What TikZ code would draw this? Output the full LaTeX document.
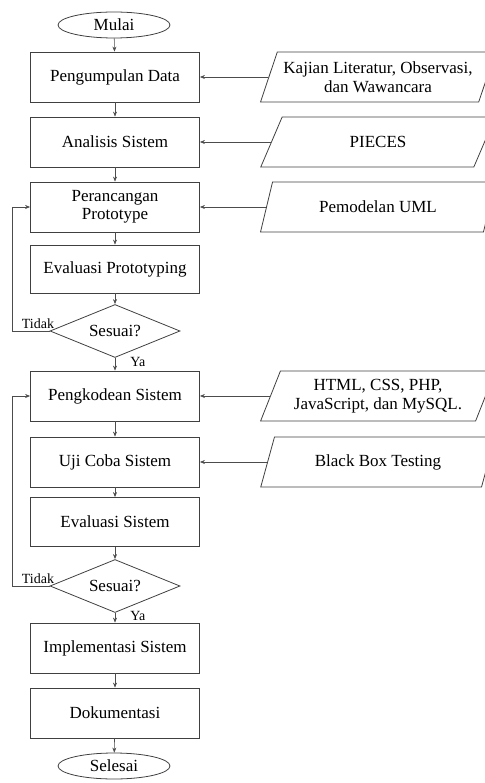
\documentclass[tikz,border=0pt]{standalone}
\usepackage{fontspec}
\setmainfont{Liberation Serif}
\usetikzlibrary{shapes.geometric,arrows.meta}
\begin{document}
\begin{tikzpicture}[x=1pt,y=-1pt,
  txt/.style={font=\fontsize{17}{18.5}\selectfont, align=center},
  proc/.style={txt, draw=black!75, line width=0.8pt, minimum width=169pt, minimum height=50pt, inner sep=2pt},
  io/.style={txt, draw=black!75, line width=0.8pt, trapezium, trapezium left angle=64, trapezium right angle=116, trapezium stretches=true, minimum width=235pt, minimum height=50pt, inner sep=1pt},
  term/.style={txt, draw=black!75, line width=0.8pt, ellipse, minimum width=112pt, minimum height=26pt, inner sep=0pt},
  dec/.style={txt, draw=black!75, line width=0.8pt, diamond, aspect=2.45, minimum width=130pt, minimum height=53pt, inner sep=0pt},
  arr/.style={-{Stealth[length=5pt,width=4pt]}, draw=black!70, line width=0.6pt},
  lbl/.style={font=\fontsize{14}{16}\selectfont, inner sep=1pt}]
\useasboundingbox (0,0) rectangle (484,783);
\node[term] (mulai) at (114,25) {Mulai};
\node[proc] (p1) at (115,77) {Pengumpulan Data};
\node[io] (i1) at (378,77) {Kajian Literatur, Observasi,\\dan Wawancara};
\node[proc] (p2) at (115,142) {Analisis Sistem};
\node[io] (i2) at (378,142) {PIECES};
\node[proc] (p3) at (115,207) {Perancangan\\Prototype};
\node[io] (i3) at (378,207) {Pemodelan UML};
\node[proc, minimum height=48pt] (p4) at (115,269) {Evaluasi Prototyping};
\node[dec] (d1) at (115,331) {Sesuai?};
\node[proc] (p5) at (115,396) {Pengkodean Sistem};
\node[io] (i5) at (378,396) {HTML, CSS, PHP,\\JavaScript, dan MySQL.};
\node[proc] (p6) at (115,462) {Uji Coba Sistem};
\node[io] (i6) at (378,462) {Black Box Testing};
\node[proc, minimum height=49pt] (p7) at (115,522) {Evaluasi Sistem};
\node[dec] (d2) at (115,586) {Sesuai?};
\node[proc] (p8) at (115,648) {Implementasi Sistem};
\node[proc] (p9) at (115,713) {Dokumentasi};
\node[term] (sel) at (114,766) {Selesai};
\draw[arr] (mulai) -- (p1);
\draw[arr] (p1) -- (p2);
\draw[arr] (p2) -- (p3);
\draw[arr] (p3) -- (p4);
\draw[arr] (p4) -- (d1);
\draw[arr] (d1) -- node[lbl, pos=0.3, right=14pt] (ya1) {Ya} (p5);
\draw[arr] (p5) -- (p6);
\draw[arr] (p6) -- (p7);
\draw[arr] (p7) -- (d2);
\draw[arr] (d2) -- node[lbl, pos=0.3, right=14pt] (ya2) {Ya} (p8);
\draw[arr] (p8) -- (p9);
\draw[arr] (p9) -- (sel);
\coordinate (l1) at (12,331);
\coordinate (l2) at (12,586);
\draw[arr] (d1.west) -- (l1) |- (p3.west);
\draw[arr] (d2.west) -- (l2) |- (p5.west);
\node[lbl, anchor=south] (t1) at (38,330) {Tidak};
\node[lbl, anchor=south] (t2) at (38,585) {Tidak};
\draw[arr] (i1.left side) -- (p1.east);
\draw[arr] (i2.left side) -- (p2.east);
\draw[arr] (i3.left side) -- (p3.east);
\draw[arr] (i5.left side) -- (p5.east);
\draw[arr] (i6.left side) -- (p6.east);
\end{tikzpicture}
\end{document}
